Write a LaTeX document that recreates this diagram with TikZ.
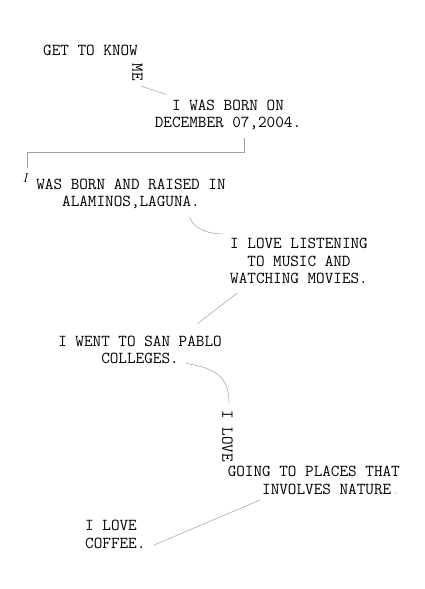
\documentclass[tikz,border=0pt]{standalone}
\usepackage{fontspec}
\usetikzlibrary{calc}
\newcommand{\notefont}{\ttfamily\fontsize{16.7}{17.5}\selectfont}
\tikzset{%
    every node/.style={%
        inner sep=0pt,%
        text=black%
    },%
    note/.style={%
        font=\notefont,%
        align=center%
    },%
    link/.style={%
        draw=gray!75,%
        line width=0.5pt%
    }%
}

\begin{document}
\begin{tikzpicture}[x=1pt,y=-1pt]
    \useasboundingbox (0,0) rectangle (424,589);
    \node[note] (getto) at (90.5,50) {GET TO KNOW};
    \node[note,rotate=-90] (me) at (137.5,72) {ME};
    \node[note] (born) at (228,115) {I WAS BORN ON\\DECEMBER 07,2004.};
    \node[font=\rmfamily\itshape\fontsize{13}{13}\selectfont] (iletter) at (25,178) {I};
    \node[note] (raised) at (131,194) {WAS BORN AND RAISED IN\\ALAMINOS,LAGUNA.};
    \node[note] (listen) at (299,261) {I LOVE LISTENING\\TO MUSIC AND\\WATCHING MOVIES.};
    \node[note] (college) at (140,350) {I WENT TO SAN PABLO\\COLLEGES.};
    \node[note,rotate=-90] (love) at (227.5,436) {I LOVE};
    \node[note,align=right,anchor=east] (places) at (400,480.5)
        {GOING TO PLACES THAT\\INVOLVES NATURE{\color{gray!40}.}};
    \node[note,align=left,anchor=west] (coffee) at (85,534.5) {I LOVE\\COFFEE.};
    \draw[link] ($(me.center)+(3.5,14)$) -- ($(born.north west)+(12,-5)$);
    \draw[link] ($(born.south)+(16,8)$) -- ++(0,14)
        -| ($(iletter.north)+(2,-5)$);
    \draw[link] ($(raised.south east)+(-36,8)$)
        .. controls +(4,13) and +(-12,0) .. ($(listen.north west)+(-6.6,-4)$);
    \draw[link] ($(listen.south west)+(7.4,9)$) -- ($(college.north east)+(-24.5,-12)$);
    \draw[link] ($(college.south)+(46,-1)$)
        .. controls +(25,5) and +(0,-30) .. ($(love.center)+(1.5,-33)$);
    \draw[link] ($(places.south west)+(33,5)$) -- ($(coffee.east)+(8.4,10.5)$);
\end{tikzpicture}
\end{document}
